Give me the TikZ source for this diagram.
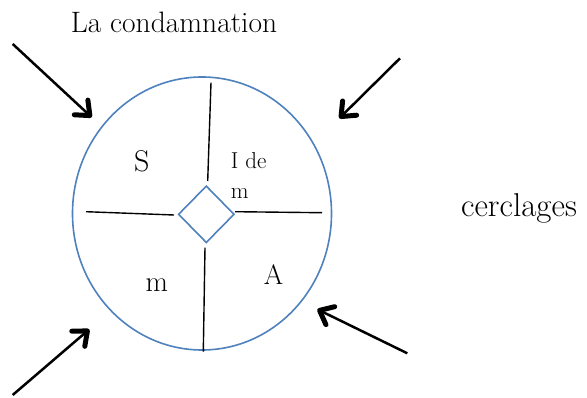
\documentclass[tikz,border=0pt]{standalone}
\usetikzlibrary{arrows.meta,shapes.geometric}
\definecolor{cblue}{HTML}{4F81BD}
\begin{document}
\begin{tikzpicture}[x=1pt,y=-1pt,
  ring/.style={ellipse,draw=cblue,line width=1.6pt,fill=white,minimum width=259pt,minimum height=273pt,inner sep=0pt},
  hub/.style={diamond,draw=cblue,line width=1.6pt,fill=white,minimum width=56pt,minimum height=57pt,inner sep=0pt},
  spoke/.style={draw=black,line width=1.4pt},
  arr/.style={line width=2.5pt,-{Straight Barb[length=12pt,width=20pt,line width=5pt,round]}},
  lab/.style={anchor=base,inner sep=0pt}]
\useasboundingbox (0,0) rectangle (587,398);
% texts outside
\node[lab,font=\fontsize{29.5}{34}\selectfont] (title) at (174,32.3) {La condamnation};
\node[lab,anchor=base west,font=\fontsize{33}{38}\selectfont] (cer) at (461,216.7) {cerclages};
% circle and hub
\node[ring] (c) at (202,213.5) {};
\node[hub] (d) at (206.3,214.3) {};
% spoke ends
\coordinate (t1) at (211,82.7);
\coordinate (t2) at (207.7,181);
\coordinate (l1) at (86,211.7);
\coordinate (l2) at (174,215);
\coordinate (r1) at (235,211.7);
\coordinate (r2) at (322,212.7);
\coordinate (b1) at (205,247.7);
\coordinate (b2) at (203.3,351.7);
\draw[spoke] (t1) -- (t2);
\draw[spoke] (l1) -- (l2);
\draw[spoke] (r1) -- (r2);
\draw[spoke] (b1) -- (b2);
% quadrant labels
\node[lab,font=\fontsize{30}{35}\selectfont] (s) at (141.7,171.7) {S};
\node[lab,anchor=base west,font=\fontsize{23}{27}\selectfont] (i1) at (230.7,169) {I de};
\node[lab,anchor=base west,font=\fontsize{23}{27}\selectfont] (i2) at (230.7,198.3) {m};
\node[lab,font=\fontsize{29}{34}\selectfont] (m) at (156.7,291.7) {m};
\node[lab,font=\fontsize{28}{33}\selectfont] (a) at (273.7,285) {A};
% arrows
\coordinate (a1s) at (12.7,44);
\coordinate (a1e) at (91.7,117.3);
\coordinate (a2s) at (400,58.3);
\coordinate (a2e) at (339.3,118.3);
\coordinate (a3s) at (12.7,395);
\coordinate (a3e) at (89.3,329.3);
\coordinate (a4s) at (407.3,353.3);
\coordinate (a4e) at (317.3,309.3);
\draw[arr] (a1s) -- (a1e);
\draw[arr] (a2s) -- (a2e);
\draw[arr] (a3s) -- (a3e);
\draw[arr] (a4s) -- (a4e);
\end{tikzpicture}
\end{document}
